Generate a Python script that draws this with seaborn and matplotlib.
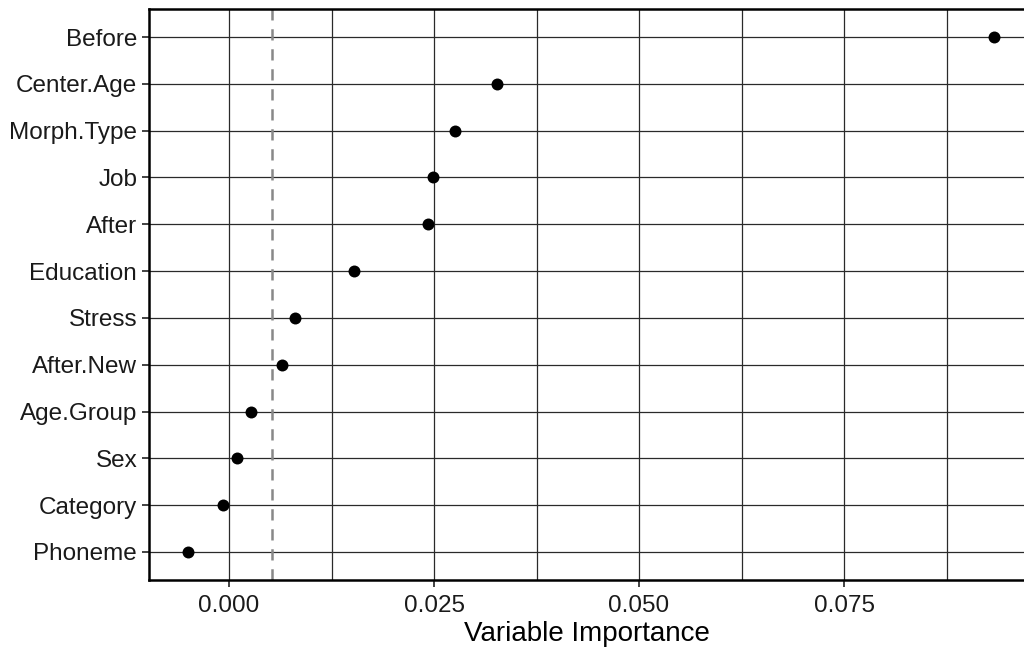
import matplotlib
matplotlib.use("Agg")
import matplotlib.pyplot as plt
import seaborn as sns
import pandas as pd
from matplotlib.ticker import FixedLocator

variables = ["Before", "Center.Age", "Morph.Type", "Job", "After", "Education",
             "Stress", "After.New", "Age.Group", "Sex", "Category", "Phoneme"]
importance = [0.0933, 0.0327, 0.0276, 0.0249, 0.0243, 0.0152,
              0.0080, 0.0065, 0.0027, 0.0010, -0.0007, -0.0050]
threshold = 0.00524

sns.set_theme(style="white")
plt.rcParams["font.family"] = ["Liberation Sans", "DejaVu Sans"]

df = pd.DataFrame({"Variable": variables, "Importance": importance})

fig = plt.figure(figsize=(10.24, 6.51), dpi=100)
ax = fig.add_axes([149/1024, 1 - 580/651, 1 - 149/1024, (580 - 9)/651])

grid_c = "#2a2a2a"
for v in [0.0, 0.025, 0.05, 0.075, 0.0125, 0.0375, 0.0625, 0.0875]:
    ax.axvline(v, color=grid_c, lw=0.9, zorder=0)
for i in range(len(variables)):
    ax.axhline(i, color=grid_c, lw=0.9, zorder=0)

ax.axvline(threshold, color="#888888", lw=1.8, ls=(0, (4.5, 3.5)), zorder=1)

sns.stripplot(data=df, x="Importance", y="Variable", order=variables,
              jitter=False, color="black", size=8.6, ax=ax, zorder=3)

ax.set_xlim(-0.009756, 0.09695)
ax.set_ylim(len(variables) - 1 + 0.6, -0.6)
ax.xaxis.set_major_locator(FixedLocator([0.0, 0.025, 0.05, 0.075]))
ax.set_xticklabels(["0.000", "0.025", "0.050", "0.075"])

ax.set_xlabel("Variable Importance", fontsize=20, color="black", labelpad=3.5)
ax.set_ylabel("")
ax.tick_params(axis="x", pad=5.5)
ax.tick_params(axis="y", pad=3.5)
ax.tick_params(axis="both", which="major", length=5, width=1.2, color="#222222",
               labelsize=17.5, labelcolor="#1a1a1a", bottom=True, left=True)

for s in ["top", "left", "bottom"]:
    ax.spines[s].set_visible(True)
    ax.spines[s].set_color("black")
    ax.spines[s].set_linewidth(1.8)
ax.spines["right"].set_visible(False)

fig.savefig("out.png", dpi=100, facecolor="white")
